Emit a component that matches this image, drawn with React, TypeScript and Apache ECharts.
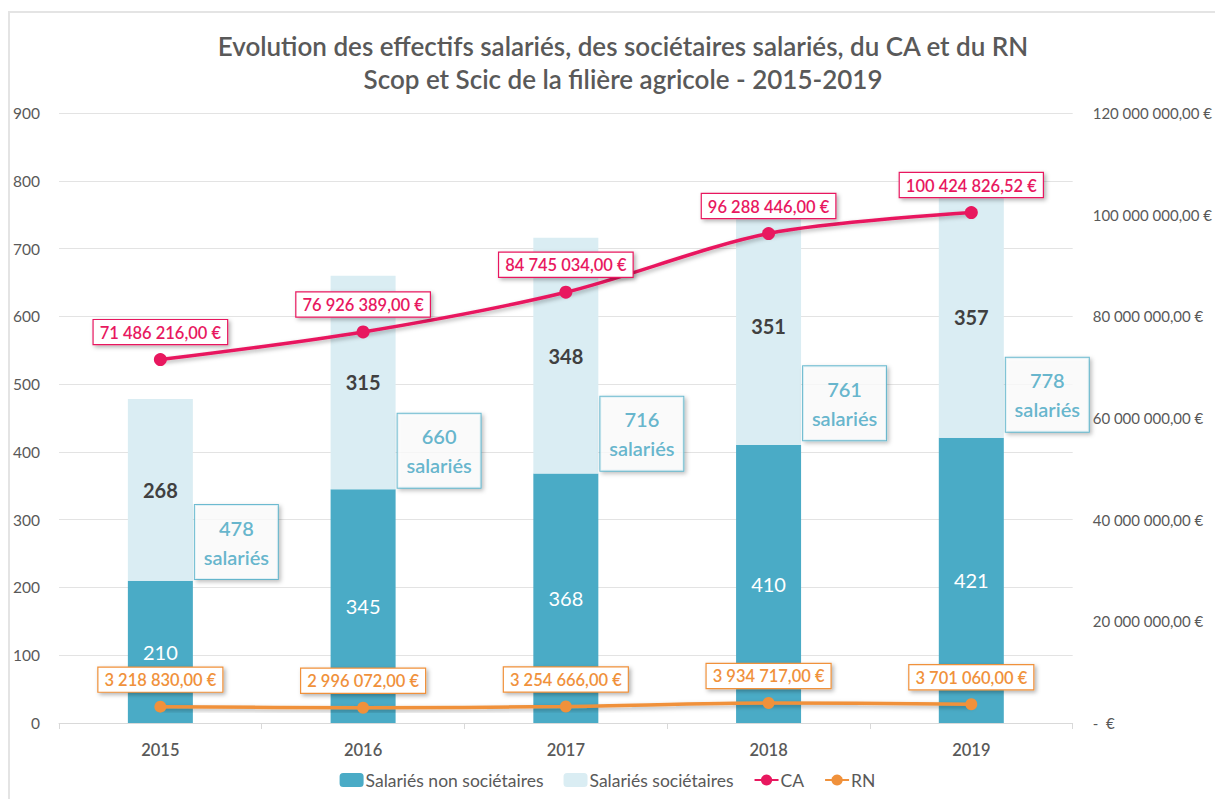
import React, { useEffect, useRef } from "react";
import * as echarts from "echarts";

const years = ["2015", "2016", "2017", "2018", "2019"];
const nonSocietaires = [210, 345, 368, 410, 421];
const societaires = [268, 315, 348, 351, 357];
const totals = [478, 660, 716, 761, 778];
const ca = [71486216.0, 76926389.0, 84745034.0, 96288446.0, 100424826.52];
const rn = [3218830.0, 2996072.0, 3254666.0, 3934717.0, 3701060.0];
const totalLabelDy = [143, 175, 196, 196, 199];

const FONT = "Lato, 'Noto Sans', sans-serif";
const TEAL = "#4aabc6";
const TEAL_TXT = "#40a4c1";
const LIGHT = "#daedf3";
const PINK = "#e8185f";
const ORANGE = "#f0913b";
const GREY = "#595959";

function euro(v: number): string {
  if (v === 0) return "-  €";
  const [i, d] = v.toFixed(2).split(".");
  return i.replace(/\B(?=(\d{3})+(?!\d))/g, " ") + "," + d + " €";
}

const shadow = {
  shadowColor: "rgba(0,0,0,0.3)",
  shadowBlur: 4,
  shadowOffsetX: 2,
  shadowOffsetY: 2,
};

export default function App() {
  const ref = useRef<HTMLDivElement>(null);
  useEffect(() => {
    document.body.style.margin = "0";
    const chart = echarts.init(ref.current!, null, { renderer: "svg" });
    chart.setOption({
      animation: false,
      backgroundColor: "#fff",
      textStyle: { fontFamily: FONT },
      title: {
        text: "Evolution des effectifs salariés, des sociétaires salariés, du CA et du RN\nScop et Scic de la filière agricole - 2015-2019",
        left: 618,
        top: 24,
        textAlign: "center",
        textStyle: {
          fontFamily: FONT,
          fontSize: 26,
          fontWeight: 600,
          color: GREY,
          lineHeight: 33,
        },
      },
      graphic: [
        {
          type: "rect",
          shape: { x: 9, y: 12, width: 1300, height: 900 },
          style: { fill: "none", stroke: "#e4e4e4", lineWidth: 2 },
          silent: true,
        },
      ],
      legend: {
        bottom: 5,
        left: "center",
        data: ["Salariés non sociétaires", "Salariés sociétaires", "CA", "RN"],
        itemGap: 20,
        itemWidth: 24,
        itemHeight: 14,
        textStyle: { fontFamily: FONT, fontSize: 17.5, color: GREY, padding: [0, 0, 0, -3] },
      },
      grid: { left: 59, right: 140, top: 113, bottom: 76 },
      xAxis: {
        type: "category",
        data: years,
        axisLine: { lineStyle: { color: "#d9d9d9" } },
        axisTick: { show: true, length: 6, lineStyle: { color: "#d9d9d9" } },
        axisLabel: { fontFamily: FONT, fontSize: 16.5, fontWeight: 600, color: GREY, margin: 18 },
      },
      yAxis: [
        {
          type: "value",
          min: 0,
          max: 900,
          interval: 100,
          axisLine: { show: false },
          axisTick: { show: false },
          splitLine: { lineStyle: { color: "#e3e3e3" } },
          axisLabel: { fontFamily: FONT, fontSize: 15.5, color: GREY, margin: 19 },
        },
        {
          type: "value",
          min: 0,
          max: 120000000,
          interval: 20000000,
          axisLine: { show: false },
          axisTick: { show: false },
          splitLine: { show: false },
          axisLabel: {
            fontFamily: FONT,
            fontSize: 15,
            color: GREY,
            margin: 20,
            formatter: (v: number) => euro(v),
          },
        },
      ],
      series: [
        {
          name: "Salariés non sociétaires",
          type: "bar",
          stack: "s",
          barWidth: 65,
          data: nonSocietaires,
          itemStyle: { color: TEAL },
          label: {
            show: true,
            position: "inside",
            color: "#fff",
            fontSize: 20,
            fontFamily: FONT,
          },
        },
        {
          name: "Salariés sociétaires",
          type: "bar",
          stack: "s",
          barWidth: 65,
          data: societaires,
          itemStyle: { color: LIGHT },
          label: {
            show: true,
            position: "inside",
            color: "#404040",
            fontSize: 20,
            fontWeight: "bold",
            fontFamily: FONT,
          },
        },
        {
          name: "Total",
          type: "scatter",
          symbolSize: 0,
          yAxisIndex: 0,
          silent: true,
          z: 5,
          data: totals.map((t, i) => ({
            value: t,
            label: { offset: [76, totalLabelDy[i]] },
          })),
          label: {
            show: true,
            position: "inside",
            formatter: (p: any) => p.value + "\nsalariés",
            color: TEAL_TXT,
            fontSize: 20,
            fontWeight: 600,
            fontFamily: FONT,
            lineHeight: 29,
            width: 83,
            align: "center",
            padding: [8, 0, 8, 0],
            backgroundColor: "#fff",
            borderColor: TEAL,
            borderWidth: 1,
            ...shadow,
          },
        },
        {
          name: "CA",
          type: "line",
          yAxisIndex: 1,
          smooth: 0.3,
          symbol: "circle",
          symbolSize: 13,
          data: ca,
          z: 6,
          lineStyle: { color: PINK, width: 3.5, ...shadow },
          itemStyle: { color: PINK },
          label: {
            show: true,
            position: "top",
            distance: 9,
            formatter: (p: any) => euro(p.value),
            color: PINK,
            fontSize: 16.5,
            fontWeight: 600,
            fontFamily: FONT,
            padding: [4, 6, 3, 6],
            backgroundColor: "#fff",
            borderColor: PINK,
            borderWidth: 1.2,
            ...shadow,
          },
        },
        {
          name: "RN",
          type: "line",
          yAxisIndex: 1,
          smooth: 0.3,
          symbol: "circle",
          symbolSize: 12,
          data: rn,
          z: 6,
          lineStyle: { color: ORANGE, width: 3.5, ...shadow },
          itemStyle: { color: ORANGE },
          label: {
            show: true,
            position: "top",
            distance: 9,
            formatter: (p: any) => euro(p.value),
            color: ORANGE,
            fontSize: 16.5,
            fontWeight: 600,
            fontFamily: FONT,
            padding: [4, 6, 3, 6],
            backgroundColor: "#fff",
            borderColor: ORANGE,
            borderWidth: 1.2,
            ...shadow,
          },
        },
      ],
    });
    return () => chart.dispose();
  }, []);
  return <div ref={ref} style={{ width: 1215, height: 799 }} />;
}
